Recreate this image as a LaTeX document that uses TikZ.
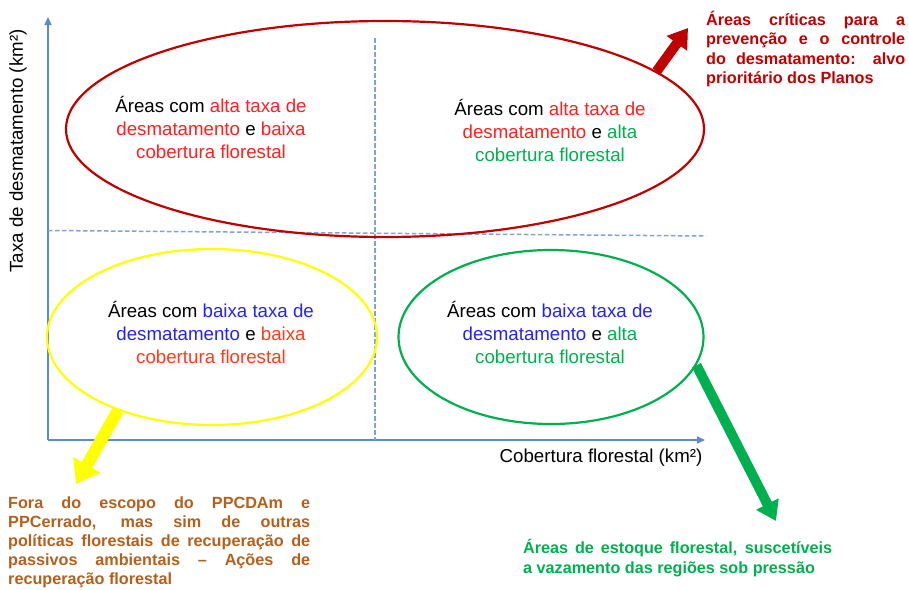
\documentclass[tikz,border=0pt]{standalone}
\usepackage{fontspec}
\setmainfont{Liberation Sans}
\usetikzlibrary{shapes.geometric,arrows.meta}
\definecolor{axisblue}{HTML}{5A8AD0}
\definecolor{guideblue}{HTML}{7FA2D8}
\definecolor{ovalred}{HTML}{C00000}
\definecolor{ovalyellow}{HTML}{FFFF00}
\definecolor{ovalgreen}{HTML}{00B050}
\definecolor{txtred}{HTML}{FF1F1F}
\definecolor{txtorange}{HTML}{FF3A1A}
\definecolor{txtblue}{HTML}{2323F5}
\definecolor{txtgreen}{HTML}{00B050}
\definecolor{notebrown}{HTML}{B4601C}
\tikzset{
  axisline/.style={draw=axisblue, line width=1.4pt, -{Triangle[length=8pt,width=7pt]}},
  guide/.style={draw=guideblue, line width=1.5pt, dash pattern=on 4.5pt off 2.5pt},
  oval/.style={ellipse, draw, line width=2.2pt, inner sep=0pt},
  quad/.style={align=center, inner sep=0pt, font=\fontsize{18.7}{23}\selectfont},
  note/.style={align=left, inner sep=0pt, font=\bfseries\fontsize{16.2}{19.6}\selectfont},
  blockarrow/.style={line width=10pt, -{Triangle[length=19pt,width=24pt]}},
}
\begin{document}
\begin{tikzpicture}[x=1pt,y=-1pt]
\useasboundingbox (0,0) rectangle (909,589);
% axes
\coordinate (O) at (48,440);
\coordinate (ytop) at (48,17);
\coordinate (xend) at (705,440);
\draw[axisline] (O) -- (ytop);
\draw[axisline] (O) -- (xend);
% guides
\coordinate (vtop) at (375,38);
\coordinate (vbot) at (375,440);
\coordinate (hl) at (48,230.5);
\coordinate (hr) at (706,236);
\draw[guide] (vtop) -- (vbot);
\draw[guide] (hl) -- (hr);
% ovals
\node[oval, draw=ovalred, minimum width=638pt, minimum height=216pt] (redE) at (385,129) {};
\node[oval, draw=ovalyellow, minimum width=330pt, minimum height=176pt] (yelE) at (212,337) {};
\node[oval, draw=ovalgreen, minimum width=305pt, minimum height=174pt] (grnE) at (551,337) {};
% quadrant texts
\node[quad] (tl) at (211,127) {Áreas com \textcolor{txtred}{alta taxa de}\\\textcolor{txtred}{desmatamento} e \textcolor{txtred}{baixa}\\\textcolor{txtred}{cobertura florestal}};
\node[quad] (tr) at (550,130) {Áreas com \textcolor{txtred}{alta taxa de}\\\textcolor{txtred}{desmatamento} e \textcolor{txtgreen}{alta}\\\textcolor{txtgreen}{cobertura florestal}};
\node[quad] (bl) at (211,332) {Áreas com \textcolor{txtblue}{baixa taxa de}\\\textcolor{txtblue}{desmatamento} e \textcolor{txtorange}{baixa}\\\textcolor{txtorange}{cobertura florestal}};
\node[quad] (br) at (550,332) {Áreas com \textcolor{txtblue}{baixa taxa de}\\\textcolor{txtblue}{desmatamento} e \textcolor{txtgreen}{alta}\\\textcolor{txtgreen}{cobertura florestal}};
% axis labels
\node[inner sep=0pt, font=\fontsize{18.7}{23}\selectfont] (xlab) at (601,458) {Cobertura florestal (km²)};
\node[inner sep=0pt, rotate=90, font=\fontsize{18.7}{23}\selectfont] (ylab) at (18,151) {Taxa de desmatamento (km²)};
% notes
\node[note, text=ovalred, anchor=west] (crit) at (706,49) {\makebox[199pt][s]{Áreas críticas para a}\\\makebox[199pt][s]{prevenção e o controle}\\\makebox[199pt][s]{do desmatamento: alvo}\\prioritário dos Planos};
\node[note, text=notebrown, anchor=west, font=\bfseries\fontsize{16.2}{19}\selectfont] (fora) at (8,542) {\makebox[302pt][s]{Fora do escopo do PPCDAm e}\\\makebox[302pt][s]{PPCerrado, mas sim de outras}\\\makebox[302pt][s]{políticas florestais de recuperação de}\\\makebox[302pt][s]{passivos ambientais -- Ações de}\\recuperação florestal};
\node[note, text=txtgreen, anchor=west] (estoque) at (523,558) {\makebox[309pt][s]{Áreas de estoque florestal, suscetíveis}\\a vazamento das regiões sob pressão};
% block arrows
\coordinate (redtip) at (688,28);
\coordinate (yeltip) at (76,484);
\coordinate (grntip) at (776,521);
\draw[blockarrow, draw=ovalred, fill=ovalred] (redE.12) -- (redtip);
\draw[blockarrow, draw=ovalyellow, fill=ovalyellow, line width=12pt, -{Triangle[length=22pt,width=30pt]}] (yelE.218) -- (yeltip);
\draw[blockarrow, draw=ovalgreen, fill=ovalgreen] (grnE.-11) -- (grntip);
\end{tikzpicture}
\end{document}
